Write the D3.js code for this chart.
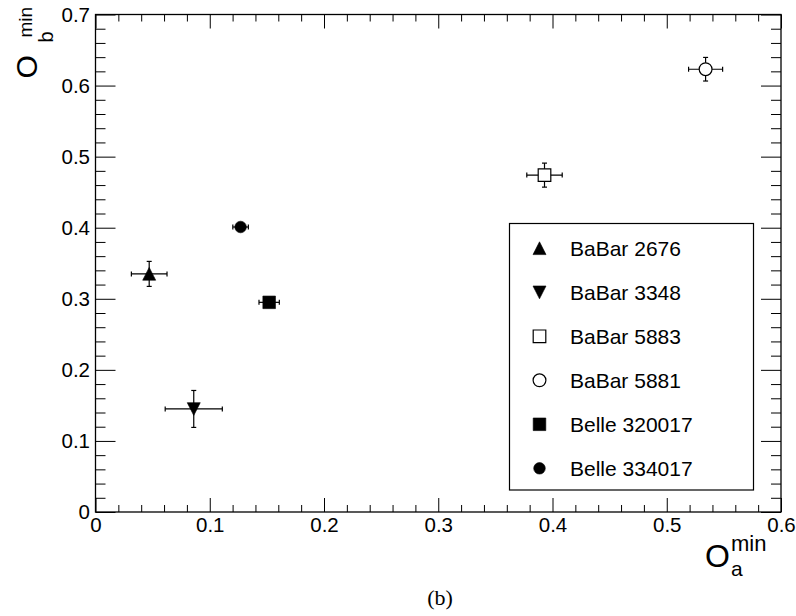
<!DOCTYPE html>
<html>
<head>
<meta charset="utf-8">
<script src="https://cdn.jsdelivr.net/npm/d3@7"></script>
<style>
  html, body { margin: 0; padding: 0; background: #fff; }
  svg { display: block; font-family: "Liberation Sans", Arial, Helvetica, sans-serif; }
</style>
</head>
<body>
<div id="chart"></div>
<script>
// Minimum overlaps O_a vs O_b per sample, ROOT-style frame with inward ticks.

const labels = ['BaBar 2676', 'BaBar 3348', 'BaBar 5883', 'BaBar 5881', 'Belle 320017', 'Belle 334017'];
const shapes = ['triUp', 'triDown', 'openSquare', 'openCircle', 'square', 'circle'];
const oa = [0.047, 0.086, 0.393, 0.534, 0.152, 0.127];
const ob = [0.335, 0.145, 0.474, 0.623, 0.295, 0.401];
const oaErr = [0.0156, 0.025, 0.0155, 0.0149, 0.0089, 0.0068];
const obErr = [0.0176, 0.026, 0.0169, 0.0166, 0.006, 0.003];

const xMajor = [0, 0.1, 0.2, 0.3, 0.4, 0.5, 0.6];
const yMajor = [0, 0.1, 0.2, 0.3, 0.4, 0.5, 0.6, 0.7];

const W = 796, H = 616;
const frame = { left: 95.5, right: 781, top: 14.5, bottom: 512 };
const tickFont = 20.5;

const svg = d3.select('#chart').append('svg').attr('width', W).attr('height', H);

const x = d3.scaleLinear().domain([0, 0.6]).range([frame.left, frame.right]);
const y = d3.scaleLinear().domain([0, 0.7]).range([frame.bottom, frame.top]);

const minors = (major, n) => {
  const out = [];
  for (let i = 0; i < major.length - 1; i++) {
    for (let k = 1; k < n; k++) out.push(major[i] + (major[i + 1] - major[i]) * k / n);
  }
  return out;
};
const xMinor = minors(xMajor, 5);
const yMinor = minors(yMajor, 5);

function styleAxis(sel) {
  sel.select('.domain').remove();
  sel.selectAll('.tick line').attr('stroke', '#000').attr('stroke-width', 1);
  sel.selectAll('.tick text').attr('fill', '#000').style('font-size', tickFont + 'px')
    .style('font-family', '"Liberation Sans", Arial, sans-serif');
}

// bottom / top
svg.append('g').attr('transform', `translate(0,${frame.bottom})`)
  .call(d3.axisBottom(x).tickValues(xMajor).tickSize(-14).tickPadding(5).tickFormat((d) => String(d)))
  .call(styleAxis);
svg.append('g').attr('transform', `translate(0,${frame.bottom})`)
  .call(d3.axisBottom(x).tickValues(xMinor).tickSize(-7).tickFormat(''))
  .call(styleAxis);
svg.append('g').attr('transform', `translate(0,${frame.top})`)
  .call(d3.axisTop(x).tickValues(xMajor).tickSize(-14).tickFormat(''))
  .call(styleAxis);
svg.append('g').attr('transform', `translate(0,${frame.top})`)
  .call(d3.axisTop(x).tickValues(xMinor).tickSize(-7).tickFormat(''))
  .call(styleAxis);

// left / right
svg.append('g').attr('transform', `translate(${frame.left},0)`)
  .call(d3.axisLeft(y).tickValues(yMajor).tickSize(-20).tickPadding(5.5).tickFormat((d) => String(d)))
  .call(styleAxis);
svg.append('g').attr('transform', `translate(${frame.left},0)`)
  .call(d3.axisLeft(y).tickValues(yMinor).tickSize(-10).tickFormat(''))
  .call(styleAxis);
svg.append('g').attr('transform', `translate(${frame.right},0)`)
  .call(d3.axisRight(y).tickValues(yMajor).tickSize(-20).tickFormat(''))
  .call(styleAxis);
svg.append('g').attr('transform', `translate(${frame.right},0)`)
  .call(d3.axisRight(y).tickValues(yMinor).tickSize(-10).tickFormat(''))
  .call(styleAxis);

// frame
svg.append('rect')
  .attr('x', frame.left).attr('y', frame.top)
  .attr('width', frame.right - frame.left).attr('height', frame.bottom - frame.top)
  .attr('fill', 'none').attr('stroke', '#000').attr('stroke-width', 1.3);

// markers
function markerPath(shape) {
  switch (shape) {
    case 'triUp': return 'M0,-6.5 L6.5,6.3 L-6.5,6.3 Z';
    case 'triDown': return 'M0,6.5 L6.5,-6.3 L-6.5,-6.3 Z';
    case 'square': case 'openSquare': return 'M-6.3,-6.3 H6.3 V6.3 H-6.3 Z';
    default: {
      const r = shape === 'circle' ? 5.8 : 6.4;
      return `M${-r},0 A${r},${r} 0 1 0 ${r},0 A${r},${r} 0 1 0 ${-r},0 Z`;
    }
  }
}
const isOpen = (s) => s === 'openSquare' || s === 'openCircle';

function drawMarker(g, shape) {
  g.append('path').attr('d', markerPath(shape))
    .attr('fill', isOpen(shape) ? '#fff' : '#000')
    .attr('stroke', '#000').attr('stroke-width', isOpen(shape) ? 1.2 : 0.6);
}

const pts = labels.map((l, i) => ({ label: l, shape: shapes[i], x: oa[i], y: ob[i], ex: oaErr[i], ey: obErr[i] }));
const cap = 2.5;
const pg = svg.append('g');
pts.forEach((d) => {
  const g = pg.append('g');
  const cx = x(d.x), cy = y(d.y);
  const x0 = x(d.x - d.ex), x1 = x(d.x + d.ex);
  const y0 = y(d.y - d.ey), y1 = y(d.y + d.ey);
  const line = (a, b, c, e) => g.append('line').attr('x1', a).attr('y1', b).attr('x2', c).attr('y2', e)
    .attr('stroke', '#000').attr('stroke-width', 1.2);
  line(x0, cy, x1, cy);
  line(cx, y0, cx, y1);
  line(x0, cy - cap, x0, cy + cap);
  line(x1, cy - cap, x1, cy + cap);
  line(cx - cap, y0, cx + cap, y0);
  line(cx - cap, y1, cx + cap, y1);
  drawMarker(g.append('g').attr('transform', `translate(${cx},${cy})`), d.shape);
});

// legend
const leg = { left: 509.5, top: 223.5, right: 753.5, bottom: 490 };
svg.append('rect')
  .attr('x', leg.left).attr('y', leg.top)
  .attr('width', leg.right - leg.left).attr('height', leg.bottom - leg.top)
  .attr('fill', '#fff').attr('stroke', '#000').attr('stroke-width', 1.2);
const rowY = d3.scalePoint().domain(labels).range([248.3, 468.3]);
labels.forEach((l, i) => {
  const ry = rowY(l);
  drawMarker(svg.append('g').attr('transform', `translate(539.5,${ry})`), shapes[i]);
  svg.append('text').attr('x', 570).attr('y', ry).attr('dy', '0.35em')
    .style('font-size', '21px').attr('fill', '#000').text(l);
});

// axis titles
const xt = svg.append('g');
xt.append('text').attr('x', 705).attr('y', 566.7).style('font-size', '32px').text('O');
xt.append('text').attr('x', 731).attr('y', 576).style('font-size', '21px').text('a');
xt.append('text').attr('x', 731).attr('y', 550.5).style('font-size', '22px').text('min');

const yt = svg.append('g').attr('transform', 'translate(36.5,77.5) rotate(-90)');
yt.append('text').attr('x', -1).attr('y', 0).style('font-size', '30px').text('O');
yt.append('text').attr('x', 35).attr('y', 16.5).style('font-size', '20px').text('b');
yt.append('text').attr('x', 40).attr('y', -5).style('font-size', '19px').text('min');

// caption
svg.append('text').attr('x', 440).attr('y', 605).attr('text-anchor', 'middle')
  .style('font-family', '"Liberation Serif", "Times New Roman", serif').style('font-size', '22px')
  .text('(b)');
</script>
</body>
</html>
